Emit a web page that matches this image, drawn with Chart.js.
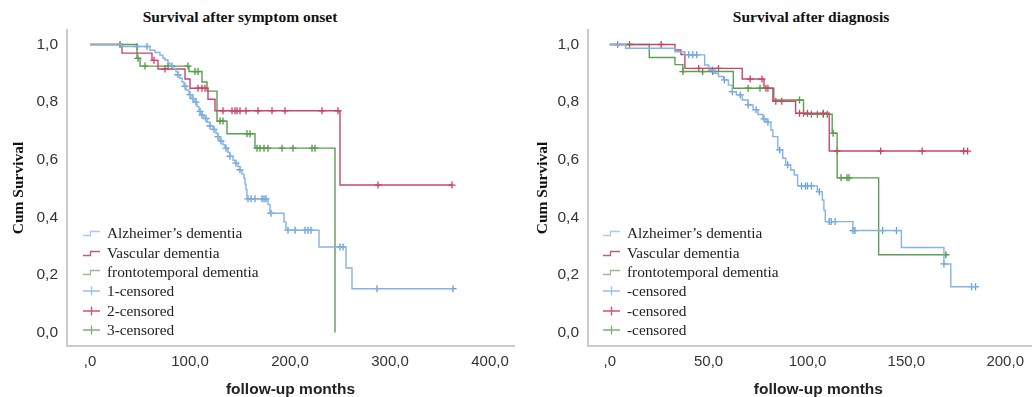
<!DOCTYPE html>
<html>
<head>
<meta charset="utf-8">
<script src="https://cdn.jsdelivr.net/npm/chart.js@4/dist/chart.umd.min.js"></script>
<style>
  html, body { margin: 0; padding: 0; background: #fff; }
  body { position: relative; width: 1032px; height: 397px; overflow: hidden; }
  canvas { position: absolute; top: 0; }
  .title {
    position: absolute; top: 8px; width: 320px; text-align: center;
    font: bold 15.5px "Liberation Serif", serif; line-height: 18px; color: #111;
  }
  .legend { position: absolute; top: 223.7px; font: 15.3px "Liberation Serif", serif; color: #222; }
  .legend .row { display: flex; align-items: center; height: 19.3px; white-space: nowrap; }
  .legend svg { width: 17px; height: 10px; margin-right: 7px; flex: none; }
</style>
</head>
<body>
<div class="title" style="left:80px">Survival after symptom onset</div>
<div class="title" style="left:651px">Survival after diagnosis</div>
<canvas id="onset" width="520" height="397" style="left:0"></canvas>
<canvas id="diag" width="534" height="397" style="left:520px"></canvas>
<div class="legend" id="onsetLegend" style="left:83px"></div>
<div class="legend" id="diagLegend" style="left:603px"></div>
<script>
// Kaplan-Meier steps: [month, cumulative survival]
const onsetAlz = [[0, 1], [32, 0.993], [60, 0.98], [65, 0.972], [70, 0.963], [73, 0.952], [75, 0.946], [78, 0.935],
  [80, 0.925], [83, 0.917], [86, 0.905], [88, 0.895], [90, 0.883], [92, 0.87], [94, 0.855], [96, 0.842],
  [99, 0.826], [102, 0.812], [105, 0.8], [107, 0.785], [109, 0.768], [111, 0.755], [114, 0.743], [117, 0.73],
  [120, 0.717], [123, 0.705], [126, 0.692], [128, 0.68], [130, 0.665], [133, 0.652], [135, 0.64], [138, 0.625],
  [140, 0.612], [143, 0.598], [145, 0.588], [148, 0.576], [150, 0.565], [152, 0.55], [154, 0.535], [155, 0.515],
  [156, 0.496], [157, 0.464], [178, 0.444], [180, 0.414], [194, 0.384], [196, 0.355], [229, 0.297],
  [256, 0.224], [262, 0.152], [363, 0.152]];
const onsetVasc = [[0, 1], [32, 0.97], [62, 0.945], [68, 0.915], [95, 0.88], [100, 0.848], [118, 0.81],
  [125, 0.77], [250, 0.512], [362, 0.512]];
const onsetFtd = [[0, 1], [47, 0.952], [50, 0.925], [99, 0.906], [112, 0.87], [117, 0.838], [127, 0.734],
  [137, 0.69], [165, 0.64], [245, 0]];

const onsetAlzCens = [47, 57, 82, 88, 95, 100, 103, 106, 110, 112, 116, 120, 124, 128, 131, 136, 140, 146, 150,
  158, 161, 165, 172, 174, 176, 181, 198, 205, 215, 218, 221, 250, 253, 287, 363];
const onsetVascCens = [64, 75, 108, 112, 115, 133, 142, 145, 147, 150, 156, 168, 182, 195, 232, 248, 288, 362];
const onsetFtdCens = [30, 48, 55, 78, 98, 105, 108, 130, 133, 157, 160, 167, 170, 174, 178, 192, 203, 222, 225];

const diagAlz = [[0, 1], [8, 0.987], [33, 0.975], [38, 0.964], [48, 0.929], [50, 0.911], [52.5, 0.9],
  [55, 0.889], [57.5, 0.877], [60, 0.859], [62, 0.836], [64, 0.825], [67, 0.807], [70, 0.79], [72.5, 0.773],
  [75, 0.757], [77.5, 0.742], [79, 0.73], [81.5, 0.703], [82.5, 0.68], [85, 0.634], [87.5, 0.605], [89, 0.582],
  [91.5, 0.564], [93.3, 0.547], [95, 0.509], [105, 0.489], [107.5, 0.46], [108.3, 0.425], [109, 0.385],
  [123, 0.354], [147.5, 0.295], [169, 0.238], [172.5, 0.159], [186, 0.159]];
const diagVasc = [[0, 1], [33, 0.981], [36, 0.965], [38, 0.917], [67, 0.88], [78, 0.848], [82.5, 0.803],
  [94, 0.761], [111, 0.63], [181, 0.63]];
const diagFtd = [[0, 1], [20, 0.955], [33, 0.93], [37, 0.906], [62.5, 0.848], [83, 0.807], [98, 0.758],
  [112.5, 0.692], [115, 0.537], [136, 0.27], [170, 0.27]];

const diagAlzCens = [4, 40, 42, 44, 52, 58, 62, 66, 70, 74, 78, 80, 86, 90, 97, 99, 100, 102, 106, 111, 112,
  114, 123, 124, 138, 145, 169, 183, 185];
const diagVascCens = [26, 45, 50, 55, 71, 77, 79, 84, 87, 96, 98, 100, 108, 115, 137, 158, 179, 181];
const diagFtdCens = [10, 37, 47, 52, 70, 76, 80, 96, 102, 105, 108, 110, 113, 117, 120, 121, 170];

const yTicks = [0, 0.2, 0.4, 0.6, 0.8, 1.0];
const yTickLabels = ['0,0', '0,2', '0,4', '0,6', '0,8', '1,0'];
const onsetXTicks = [0, 100, 200, 300, 400];
const onsetXTickLabels = [',0', '100,0', '200,0', '300,0', '400,0'];
const diagXTicks = [0, 50, 100, 150, 200];
const diagXTickLabels = [',0', '50,0', '100,0', '150,0', '200,0'];

const groupNames = ['Alzheimer\u2019s dementia', 'Vascular dementia', 'frontotemporal dementia'];
const onsetCensNames = ['1-censored', '2-censored', '3-censored'];
const diagCensNames = ['-censored', '-censored', '-censored'];

const lineColors = ['#86b3e2', '#c8466e', '#5c9f52'];
const crossColors = ['#5e9ce0', '#cf3a66', '#4f9445'];
const legendLineColors = ['#a9cbe8', '#c05a7e', '#93c18c'];
const legendCrossColors = ['#98c0ec', '#d24f76', '#7cb174'];

// survival value of the step curve at time t (censor marks sit on the curve)
const survAt = (curve, t) => {
  let s = curve[0][1];
  curve.forEach(([x, y]) => { if (x <= t) s = y; });
  return s;
};

const buildDatasets = (curves, censors) => {
  const sets = [];
  curves.forEach((curve, i) => {
    sets.push({
      data: curve.map(([x, y]) => ({ x, y })),
      stepped: true,
      borderColor: lineColors[i],
      borderWidth: 1.4,
      pointRadius: 0,
      fill: false
    });
  });
  censors.forEach((times, i) => {
    sets.push({
      data: times.map(t => ({ x: t, y: survAt(curves[i], t) })),
      showLine: false,
      pointStyle: 'cross',
      pointRadius: 3.5,
      pointBorderWidth: 1.3,
      pointBorderColor: crossColors[i],
      borderColor: crossColors[i]
    });
  });
  return sets;
};

const makeChart = (id, datasets, x, yTitlePad) => new Chart(document.getElementById(id), {
  type: 'line',
  data: { datasets },
  options: {
    responsive: false,
    animation: false,
    events: [],
    layout: { padding: { top: 30, right: x.padRight, left: 0, bottom: 0 } },
    plugins: { legend: { display: false }, tooltip: { enabled: false } },
    scales: {
      x: {
        type: 'linear',
        min: x.min,
        max: x.max,
        grid: { display: false, drawTicks: false },
        border: { color: '#cbcbcb', width: 2 },
        afterBuildTicks: scale => { scale.ticks = x.ticks.map(v => ({ value: v })); },
        afterFit: scale => { scale.height = 51; },
        ticks: {
          padding: 7,
          color: '#333',
          font: { family: 'Liberation Sans', size: 15 },
          maxRotation: 0,
          callback: (v, i) => x.labels[i]
        },
        title: {
          display: true,
          text: 'follow-up months',
          color: '#222',
          font: { family: 'Liberation Sans', size: 15.5, weight: 'bold', lineHeight: 1 },
          padding: { top: 0, bottom: 0 }
        }
      },
      y: {
        type: 'linear',
        min: -0.0469,
        max: 1.0503,
        grid: { display: false, drawTicks: false },
        border: { color: '#cbcbcb', width: 2 },
        afterBuildTicks: scale => { scale.ticks = yTicks.map(v => ({ value: v })); },
        afterFit: scale => { scale.width = x.yWidth; },
        ticks: {
          padding: 9,
          color: '#333',
          font: { family: 'Liberation Sans', size: 15.5 },
          callback: (v, i) => yTickLabels[i]
        },
        title: {
          display: true,
          text: 'Cum Survival',
          color: '#111',
          font: { family: 'Liberation Serif', size: 15.5, weight: 'bold' },
          padding: { top: yTitlePad, bottom: 0 }
        }
      }
    }
  }
});

const stepIcon = c => `<svg viewBox="0 0 17 10"><path d="M0 7.5H7.5V3.5H17" fill="none" stroke="${c}" stroke-width="1.3"/></svg>`;
const crossIcon = c => `<svg viewBox="0 0 17 10"><path d="M0 5H17M8.5 0.5V9.5" fill="none" stroke="${c}" stroke-width="1.3"/></svg>`;

const buildLegend = (id, censNames) => {
  const rows = groupNames.map((n, i) => `<div class="row">${stepIcon(legendLineColors[i])}${n}</div>`)
    .concat(censNames.map((n, i) => `<div class="row">${crossIcon(legendCrossColors[i])}${n}</div>`));
  document.getElementById(id).innerHTML = rows.join('');
};

makeChart('onset', buildDatasets([onsetAlz, onsetVasc, onsetFtd], [onsetAlzCens, onsetVascCens, onsetFtdCens]),
  { min: -23, max: 424, padRight: 6, yWidth: 67, ticks: onsetXTicks, labels: onsetXTickLabels }, 10);
makeChart('diag', buildDatasets([diagAlz, diagVasc, diagFtd], [diagAlzCens, diagVascCens, diagFtdCens]),
  { min: -11, max: 222, padRight: 0, yWidth: 68, ticks: diagXTicks, labels: diagXTickLabels }, 13.5);

buildLegend('onsetLegend', onsetCensNames);
buildLegend('diagLegend', diagCensNames);
</script>
</body>
</html>
